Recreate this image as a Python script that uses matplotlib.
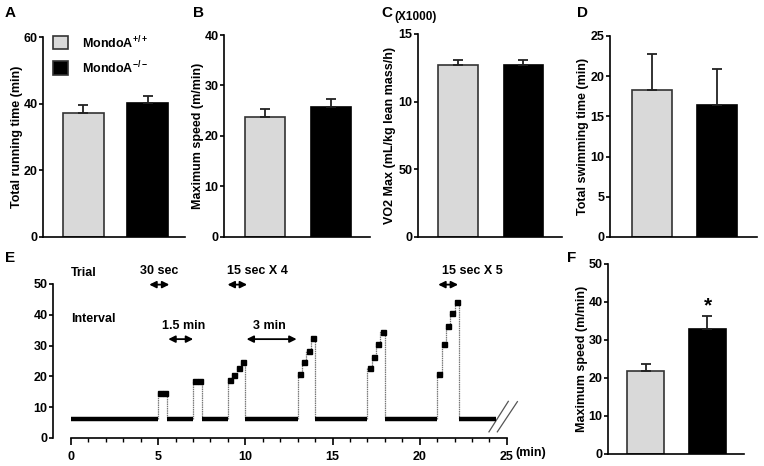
import matplotlib
matplotlib.use("Agg")
import matplotlib.pyplot as plt
from matplotlib.patches import Rectangle

plt.rcParams['font.family'] = ['Liberation Sans', 'DejaVu Sans']
plt.rcParams['font.weight'] = 'bold'
plt.rcParams['font.size'] = 9
plt.rcParams['mathtext.fontset'] = 'custom'
plt.rcParams['mathtext.rm'] = 'Liberation Sans:bold'
plt.rcParams['mathtext.bf'] = 'Liberation Sans:bold'
plt.rcParams['mathtext.default'] = 'bf'

# ---- data ----
groups = ['MondoA$^{+/+}$', 'MondoA$^{-/-}$']

run_time = [37.2, 40.2]
run_time_err = [2.4, 2.1]

max_speed_b = [23.8, 25.7]
max_speed_b_err = [1.5, 1.6]

vo2_max = [12.7, 12.7]
vo2_max_err = [0.35, 0.35]
vo2_ticks = [0, 5, 10, 15]
vo2_ticklabels = ['0', '50', '10', '15']

swim_time = [18.3, 16.4]
swim_time_err = [4.4, 4.5]

max_speed_f = [21.8, 32.9]
max_speed_f_err = [1.9, 3.5]

# interval protocol (panel E)
rest_start = [0, 5.5, 7.5, 10, 14, 18, 22.25]
rest_end = [5, 7, 9, 13, 17, 21, 24.4]
rest_speed = 6.3
bout_start = [5, 7, 9, 13, 17, 21]
bout_speeds = [
    [14.6, 14.6],
    [18.6, 18.6],
    [18.7, 20.6, 22.6, 24.6],
    [20.7, 24.8, 28.3, 32.6],
    [22.6, 26.4, 30.4, 34.5],
    [20.7, 30.4, 36.5, 40.5, 44.3],
]
step_len = 0.25  # 15 sec

light = '#d9d9d9'
W, H = 764, 466
fig = plt.figure(figsize=(W / 100, H / 100), dpi=100)


def px_axes(l, t, r, b):
    return fig.add_axes([l / W, 1 - b / H, (r - l) / W, (b - t) / H])


def bar_panel(box, vals, errs, ymax, ystep, xlim, width, ylabel, label_x):
    ax = px_axes(*box)
    ax.bar([0, 1], vals, width=width, color=[light, 'black'],
           edgecolor=['#333333', 'black'], linewidth=1.2, zorder=2)
    ax.errorbar([0, 1], vals, yerr=[[0, 0], errs], fmt='none', ecolor='#222222',
                elinewidth=1.3, capsize=3.5, capthick=1.3, zorder=3)
    ax.set_xlim(*xlim)
    ax.set_ylim(0, ymax)
    ax.set_yticks(range(0, ymax + 1, ystep))
    ax.set_xticks([])
    for s in ['top', 'right']:
        ax.spines[s].set_visible(False)
    ax.spines['left'].set_linewidth(1.2)
    ax.spines['bottom'].set_linewidth(1.2)
    ax.tick_params(axis='y', length=3, width=1.2, pad=1, labelsize=9)
    t, b = box[1], box[3]
    fig.text(label_x / W, 1 - (t + b) / 2 / H, ylabel, rotation=90,
             ha='center', va='center', fontsize=9)
    return ax


axA = bar_panel((43, 37, 185, 237), run_time, run_time_err, 60, 20,
                (-0.628, 1.574), 0.636, 'Total running time (min)', 17)
axB = bar_panel((224, 35, 370, 237), max_speed_b, max_speed_b_err, 40, 10,
                (-0.621, 1.591), 0.606, 'Maximum speed (m/min)', 198)
axC = bar_panel((418, 34, 562, 237), vo2_max, vo2_max_err, 15, 5,
                (-0.611, 1.588), 0.61, 'VO2 Max (mL/kg lean mass/h)', 390)
axC.set_yticks(vo2_ticks)
axC.set_yticklabels(vo2_ticklabels)
axD = bar_panel((610, 36, 757, 237), swim_time, swim_time_err, 25, 5,
                (-0.64, 1.603), 0.61, 'Total swimming time (min)', 583)
axF = bar_panel((608, 264, 744, 454), max_speed_f, max_speed_f_err, 50, 10,
                (-0.605, 1.589), 0.597, 'Maximum speed (m/min)', 582)
axF.text(1, 39.0, '*', ha='center', va='center', fontsize=15)

fig.text(394 / W, 1 - 17 / H, '(X1000)', ha='left', va='center', fontsize=8.5)

# legend in panel A
for (y0, y1), c, lab in zip([(36, 49), (61, 75)], [light, 'black'], groups):
    fig.add_artist(Rectangle((53 / W, 1 - y1 / H), 15 / W, (y1 - y0) / H,
                             transform=fig.transFigure, facecolor=c,
                             edgecolor='#333333', linewidth=1.2))
    fig.text(82 / W, 1 - (y0 + y1) / 2 / H, lab, ha='left', va='center', fontsize=9)

# ---- panel E ----
axE = px_axes(53, 284, 520, 438)
axE.set_xlim(-1.03, 25.75)
axE.set_ylim(0, 50)
for s in ['top', 'right']:
    axE.spines[s].set_visible(False)
axE.spines['left'].set_linewidth(1.2)
axE.spines['bottom'].set_linewidth(1.2)
axE.spines['bottom'].set_bounds(0, 25)
axE.set_yticks(range(0, 51, 10))
axE.set_xticks(range(0, 26, 5))
axE.set_xticks(range(0, 26), minor=True)
axE.tick_params(axis='y', length=3, width=1.2, pad=1)
axE.tick_params(axis='x', which='major', length=5, width=1.2, pad=4)
axE.tick_params(axis='x', which='minor', length=3, width=1)

for t0, sp in zip(bout_start, bout_speeds):
    ts = [t0 + i * step_len for i in range(len(sp))]
    xs = [t0] + ts + [t0 + len(sp) * step_len]
    ys = [rest_speed] + sp + [rest_speed]
    axE.plot(xs, ys, drawstyle='steps-post', color='#777777', lw=0.9,
             ls=(0, (1.2, 0.6)), zorder=2)
    axE.plot([t + step_len / 2 for t in ts], sp, 's', color='black',
             markersize=3.6, zorder=3)
axE.hlines([rest_speed] * len(rest_start), rest_start, rest_end,
           color='black', lw=3.2, zorder=3)

# break marks
axE.plot([23.97, 25.08], [2.0, 11.9], color='#555555', lw=0.9, clip_on=False)
axE.plot([24.45, 25.6], [2.0, 11.8], color='#555555', lw=0.9, clip_on=False)

axE.text(25.5, -5.0, '(min)', ha='left', va='center', fontsize=9)

axE.text(0, 53.5, 'Trial', ha='left', va='center', fontsize=9)
axE.text(0, 38.5, 'Interval', ha='left', va='center', fontsize=9)
axE.text(5.07, 54.1, '30 sec', ha='center', va='center', fontsize=9)
axE.text(10.72, 54.1, '15 sec X 4', ha='center', va='center', fontsize=9)
axE.text(23.02, 54.1, '15 sec X 5', ha='center', va='center', fontsize=9)
axE.text(6.44, 36.4, '1.5 min', ha='center', va='center', fontsize=9)
axE.text(11.38, 36.4, '3 min', ha='center', va='center', fontsize=9)

arrows = [((4.49, 49.8), (5.64, 49.8)), ((8.98, 49.8), (10.1, 49.8)),
          ((21.06, 49.8), (22.2, 49.8)), ((5.58, 32.1), (7.01, 32.1)),
          ((10.07, 32.1), (12.94, 32.1))]
for a, b in arrows:
    axE.annotate('', xy=b, xytext=a, annotation_clip=False,
                 arrowprops=dict(arrowstyle='<|-|>', color='black', lw=1.3,
                                 mutation_scale=10, shrinkA=0, shrinkB=0))

# panel letters
for x, y, s in [(10.5, 13, 'A'), (199, 13, 'B'), (387, 13, 'C'),
                (582, 13, 'D'), (10, 258, 'E'), (571.5, 258, 'F')]:
    fig.text(x / W, 1 - y / H, s, ha='center', va='center', fontsize=11)

fig.savefig('out.png', dpi=100)
